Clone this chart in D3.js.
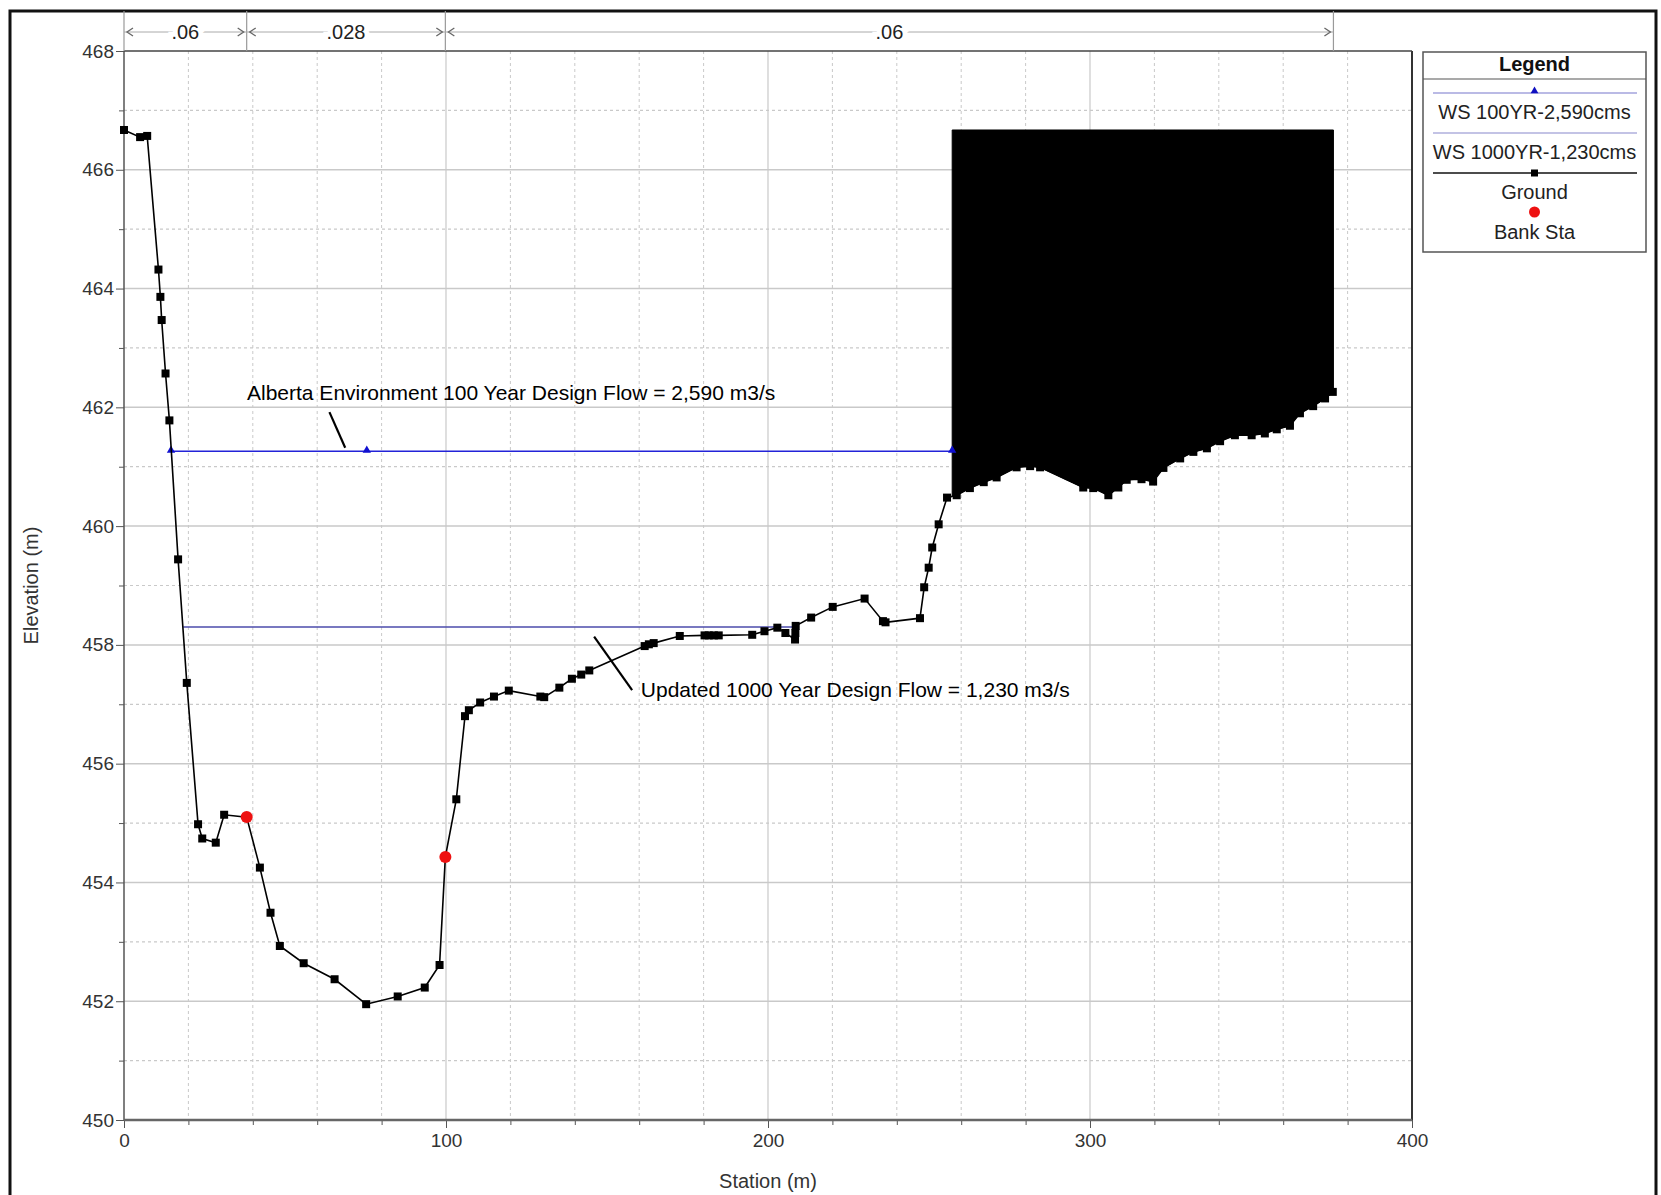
<!DOCTYPE html>
<html>
<head>
<meta charset="utf-8">
<script src="https://cdn.jsdelivr.net/npm/d3@7"></script>
<style>
  html, body { margin: 0; padding: 0; background: #fff; }
  svg { display: block; font-family: "Liberation Sans", Arial, sans-serif; }
</style>
</head>
<body>
<svg id="chart" width="1661" height="1195"></svg>
<script>
// ---------- DATA ----------
const groundStation = [0, 5.0, 7.2, 10.7, 11.3, 11.7, 12.9, 14.1, 16.8, 19.5, 23.0, 24.3, 28.5, 31.1, 38.1,
  42.2, 45.5, 48.4, 55.8, 65.4, 75.2, 85.0, 93.4, 98.0, 99.8, 103.2, 105.9, 107.1, 110.6, 114.9, 119.5,
  129.3, 130.5, 135.2, 139.1, 142.0, 144.5, 161.7, 163.0, 164.5, 172.6, 180.3, 181.6, 183.2, 184.7,
  195.1, 198.9, 202.9, 205.4, 208.4, 208.5, 208.6, 213.4, 220.1, 230.0, 235.7, 236.5, 247.2, 248.5,
  249.9, 251.0, 253.0, 255.6, 258.6, 262.7, 267.0, 271.0, 277.2, 281.4, 284.5, 297.9, 301.0, 305.7,
  308.8, 311.4, 316.0, 319.6, 322.8, 328.0, 332.1, 336.3, 340.4, 345.0, 350.2, 354.3, 358.0, 362.1,
  365.2, 369.3, 373.0, 375.4];
const groundElev = [466.67, 466.55, 466.57, 464.32, 463.86, 463.47, 462.57, 461.78, 459.44, 457.36, 454.98, 454.74, 454.67, 455.14, 455.10,
  454.25, 453.49, 452.93, 452.64, 452.37, 451.95, 452.08, 452.23, 452.61, 454.43, 455.40, 456.80, 456.90, 457.03, 457.13, 457.23,
  457.13, 457.12, 457.28, 457.43, 457.50, 457.57, 457.98, 458.01, 458.03, 458.15, 458.16, 458.16, 458.16, 458.16,
  458.17, 458.23, 458.29, 458.20, 458.09, 458.20, 458.32, 458.46, 458.64, 458.78, 458.40, 458.38, 458.45, 458.97,
  459.30, 459.64, 460.03, 460.48, 460.52, 460.64, 460.74, 460.82, 460.99, 461.01, 460.99, 460.65, 460.64, 460.52,
  460.65, 460.78, 460.79, 460.75, 460.98, 461.14, 461.25, 461.31, 461.43, 461.53, 461.53, 461.56, 461.63, 461.69,
  461.90, 462.02, 462.15, 462.26];

const bankStation = [38.1, 99.8];
const bankElev = [455.10, 454.43];

const ws100Station = [14.6, 257.2];
const ws100Elev = 461.26;
const ws100MarkerStation = [14.6, 75.4, 257.2];

const ws1000Station = [18.4, 208.5];
const ws1000Elev = 458.30;

const obstructionStation = [257.2, 375.6];
const obstructionTop = 466.67;

const roughBreaks = [0, 38.1, 99.8, 375.6];
const roughValues = [".06", ".028", ".06"];

const yMajorTicks = [450, 452, 454, 456, 458, 460, 462, 464, 466, 468];
const yMinorTicks = [451, 453, 455, 457, 459, 461, 463, 465, 467];
const xMajorTicks = [0, 100, 200, 300, 400];
const xMinorTicks = [20, 40, 60, 80, 120, 140, 160, 180, 220, 240, 260, 280, 320, 340, 360, 380];

const legendLabels = ["WS 100YR-2,590cms", "WS 1000YR-1,230cms", "Ground", "Bank Sta"];

const annotations = [
  { text: "Alberta Environment 100 Year Design Flow = 2,590 m3/s", tx: 38.2, ty: 462.12, x1: 63.8, y1: 461.92, x2: 68.7, y2: 461.32 },
  { text: "Updated 1000 Year Design Flow = 1,230 m3/s", tx: 160.5, ty: 457.12, x1: 146.0, y1: 458.14, x2: 157.8, y2: 457.24 }
];

// ---------- LAYOUT ----------
const svg = d3.select("#chart");
const L = 124, R = 1412, T = 51, B = 1120;
const x = d3.scaleLinear().domain([0, 400]).range([L, R]);
const y = d3.scaleLinear().domain([450, 468]).range([B, T]);
const gridColor = "#c9c9c9";
const tickFont = 19;
const mk = 8;

// outer frame
svg.append("rect").attr("x", 10).attr("y", 11).attr("width", 1646).attr("height", 1200)
  .attr("fill", "none").attr("stroke", "#111").attr("stroke-width", 3);

// grid
const grid = svg.append("g");
grid.selectAll(".gxm").data(xMinorTicks).join("line")
  .attr("x1", d => x(d)).attr("x2", d => x(d)).attr("y1", T).attr("y2", B)
  .attr("stroke", gridColor).attr("stroke-width", 1).attr("stroke-dasharray", "3,3");
grid.selectAll(".gxM").data(xMajorTicks.filter(d => d > 0 && d < 400)).join("line")
  .attr("x1", d => x(d)).attr("x2", d => x(d)).attr("y1", T).attr("y2", B)
  .attr("stroke", gridColor).attr("stroke-width", 1.2);
grid.selectAll(".gym").data(yMinorTicks).join("line")
  .attr("y1", d => y(d)).attr("y2", d => y(d)).attr("x1", L).attr("x2", R)
  .attr("stroke", gridColor).attr("stroke-width", 1.2).attr("stroke-dasharray", "3,3");
grid.selectAll(".gyM").data(yMajorTicks.filter(d => d > 450 && d < 468)).join("line")
  .attr("y1", d => y(d)).attr("y2", d => y(d)).attr("x1", L).attr("x2", R)
  .attr("stroke", gridColor).attr("stroke-width", 1.5);

// axes
function styleAxis(g) {
  g.selectAll("text").attr("font-size", tickFont).attr("fill", "#333")
    .attr("font-family", '"Liberation Sans", Arial, sans-serif');
  g.selectAll("line").attr("stroke", "#555");
  g.select(".domain").remove();
}
svg.append("g").attr("transform", `translate(${L},0)`)
  .call(d3.axisLeft(y).tickValues(yMajorTicks).tickSize(8).tickPadding(2).tickFormat(d3.format("d")))
  .call(styleAxis);
svg.append("g").attr("transform", `translate(${L},0)`)
  .call(d3.axisLeft(y).tickValues(yMinorTicks).tickSize(5).tickFormat(""))
  .call(styleAxis);
svg.append("g").attr("transform", `translate(0,${B})`)
  .call(d3.axisBottom(x).tickValues(xMajorTicks).tickSize(8).tickPadding(6).tickFormat(d3.format("d")))
  .call(styleAxis);
svg.append("g").attr("transform", `translate(0,${B})`)
  .call(d3.axisBottom(x).tickValues(xMinorTicks).tickSize(5).tickFormat(""))
  .call(styleAxis);

// plot border
svg.append("line").attr("x1", L).attr("x2", L).attr("y1", T).attr("y2", B).attr("stroke", "#555").attr("stroke-width", 1.5);
svg.append("line").attr("x1", R).attr("x2", R).attr("y1", T).attr("y2", B).attr("stroke", "#333").attr("stroke-width", 2);
svg.append("line").attr("x1", L).attr("x2", R).attr("y1", T).attr("y2", T).attr("stroke", "#444").attr("stroke-width", 1.5);
svg.append("line").attr("x1", L).attr("x2", R).attr("y1", B).attr("y2", B).attr("stroke", "#666").attr("stroke-width", 2.5);

// axis titles
svg.append("text").attr("transform", `translate(38,${(T + B) / 2}) rotate(-90)`)
  .attr("text-anchor", "middle").attr("font-size", 20).attr("fill", "#333").text("Elevation (m)");
svg.append("text").attr("x", (L + R) / 2).attr("y", 1188)
  .attr("text-anchor", "middle").attr("font-size", 20).attr("fill", "#333").text("Station (m)");

// roughness band
const bandY = 32;
const band = svg.append("g");
band.selectAll(".rv").data(roughBreaks).join("line")
  .attr("x1", d => x(d)).attr("x2", d => x(d)).attr("y1", 11).attr("y2", T)
  .attr("stroke", "#9a9a9a").attr("stroke-width", 1.2);
band.append("line").attr("x1", x(roughBreaks[0])).attr("x2", x(roughBreaks[roughBreaks.length - 1]))
  .attr("y1", bandY).attr("y2", bandY).attr("stroke", "#aaa").attr("stroke-width", 1);
roughValues.forEach((v, i) => {
  const a = x(roughBreaks[i]), b = x(roughBreaks[i + 1]);
  band.append("path").attr("d", `M${a + 9},${bandY - 4} L${a + 3},${bandY} L${a + 9},${bandY + 4}`)
    .attr("fill", "none").attr("stroke", "#666").attr("stroke-width", 1.3);
  band.append("path").attr("d", `M${b - 9},${bandY - 4} L${b - 3},${bandY} L${b - 9},${bandY + 4}`)
    .attr("fill", "none").attr("stroke", "#666").attr("stroke-width", 1.3);
  band.append("text").attr("x", (a + b) / 2).attr("y", bandY + 7).attr("text-anchor", "middle")
    .attr("font-size", 20).attr("fill", "#222")
    .attr("stroke", "#fff").attr("stroke-width", 10).attr("paint-order", "stroke").text(v);
});

// obstruction fill (black), following ground on its lower edge
function groundAt(s) {
  for (let i = 0; i < groundStation.length - 1; i++) {
    if (s >= groundStation[i] && s <= groundStation[i + 1]) {
      const t = (s - groundStation[i]) / (groundStation[i + 1] - groundStation[i]);
      return groundElev[i] + t * (groundElev[i + 1] - groundElev[i]);
    }
  }
  return groundElev[groundElev.length - 1];
}
const obsPts = [[obstructionStation[0], obstructionTop], [obstructionStation[1], obstructionTop],
  [obstructionStation[1], groundAt(obstructionStation[1])]];
for (let i = groundStation.length - 1; i >= 0; i--) {
  if (groundStation[i] > obstructionStation[0] && groundStation[i] < obstructionStation[1])
    obsPts.push([groundStation[i], groundElev[i]]);
}
obsPts.push([obstructionStation[0], groundAt(obstructionStation[0])]);
svg.append("path").attr("d", d3.line().x(d => x(d[0])).y(d => y(d[1]))(obsPts) + "Z")
  .attr("fill", "#000").attr("stroke", "#000").attr("stroke-width", 1);

// water surfaces
svg.append("line").attr("x1", x(ws1000Station[0])).attr("x2", x(ws1000Station[1]))
  .attr("y1", y(ws1000Elev)).attr("y2", y(ws1000Elev)).attr("stroke", "#4b4bab").attr("stroke-width", 1.5);
svg.append("line").attr("x1", x(ws100Station[0])).attr("x2", x(ws100Station[1]))
  .attr("y1", y(ws100Elev)).attr("y2", y(ws100Elev)).attr("stroke", "#2323d8").attr("stroke-width", 1.6);
const tri = d3.symbol().type(d3.symbolTriangle).size(30);
svg.selectAll(".wsm").data(ws100MarkerStation).join("path")
  .attr("d", tri).attr("transform", d => `translate(${x(d)},${y(ws100Elev) - 1})`).attr("fill", "#1010d0");

// ground
const gData = groundStation.map((s, i) => [s, groundElev[i]]);
svg.append("path").datum(gData).attr("d", d3.line().x(d => x(d[0])).y(d => y(d[1])))
  .attr("fill", "none").attr("stroke", "#000").attr("stroke-width", 1.6);
svg.selectAll(".gm").data(gData).join("rect")
  .attr("x", d => x(d[0]) - mk / 2).attr("y", d => y(d[1]) - mk / 2).attr("width", mk).attr("height", mk).attr("fill", "#000");

// bank stations
svg.selectAll(".bk").data(bankStation.map((s, i) => [s, bankElev[i]])).join("circle")
  .attr("cx", d => x(d[0])).attr("cy", d => y(d[1])).attr("r", 6).attr("fill", "#ee1111");

// annotations
annotations.forEach(a => {
  svg.append("line").attr("x1", x(a.x1)).attr("y1", y(a.y1)).attr("x2", x(a.x2)).attr("y2", y(a.y2))
    .attr("stroke", "#000").attr("stroke-width", 2.2);
  svg.append("text").attr("x", x(a.tx)).attr("y", y(a.ty)).attr("font-size", 21).attr("fill", "#000").text(a.text);
});

// legend
const lg = svg.append("g");
const lx0 = 1423, lx1 = 1646, ly0 = 52, ly1 = 252, lcx = (lx0 + lx1) / 2;
lg.append("rect").attr("x", lx0).attr("y", ly0).attr("width", lx1 - lx0).attr("height", ly1 - ly0)
  .attr("fill", "#fff").attr("stroke", "#555").attr("stroke-width", 1.5);
lg.append("line").attr("x1", lx0).attr("x2", lx1).attr("y1", 79).attr("y2", 79).attr("stroke", "#555").attr("stroke-width", 1.2);
lg.append("text").attr("x", lcx).attr("y", 71).attr("text-anchor", "middle").attr("font-size", 20)
  .attr("font-weight", "bold").attr("fill", "#111").text("Legend");
const legLineX0 = 1433, legLineX1 = 1637;
lg.append("line").attr("x1", legLineX0).attr("x2", legLineX1).attr("y1", 93).attr("y2", 93).attr("stroke", "#7777cc").attr("stroke-width", 1.2);
lg.append("path").attr("d", d3.symbol().type(d3.symbolTriangle).size(26)).attr("transform", `translate(${lcx},91)`).attr("fill", "#1010c0");
lg.append("line").attr("x1", legLineX0).attr("x2", legLineX1).attr("y1", 133).attr("y2", 133).attr("stroke", "#8888cc").attr("stroke-width", 1.2);
lg.append("line").attr("x1", legLineX0).attr("x2", legLineX1).attr("y1", 173).attr("y2", 173).attr("stroke", "#111").attr("stroke-width", 1.6);
lg.append("rect").attr("x", lcx - 3.5).attr("y", 169.5).attr("width", 7).attr("height", 7).attr("fill", "#000");
lg.append("circle").attr("cx", lcx).attr("cy", 212).attr("r", 5.5).attr("fill", "#ee1111");
const legTextY = [119, 159, 199, 239];
legendLabels.forEach((t, i) => {
  lg.append("text").attr("x", lcx).attr("y", legTextY[i]).attr("text-anchor", "middle")
    .attr("font-size", 20).attr("fill", "#222").text(t);
});
</script>
</body>
</html>
